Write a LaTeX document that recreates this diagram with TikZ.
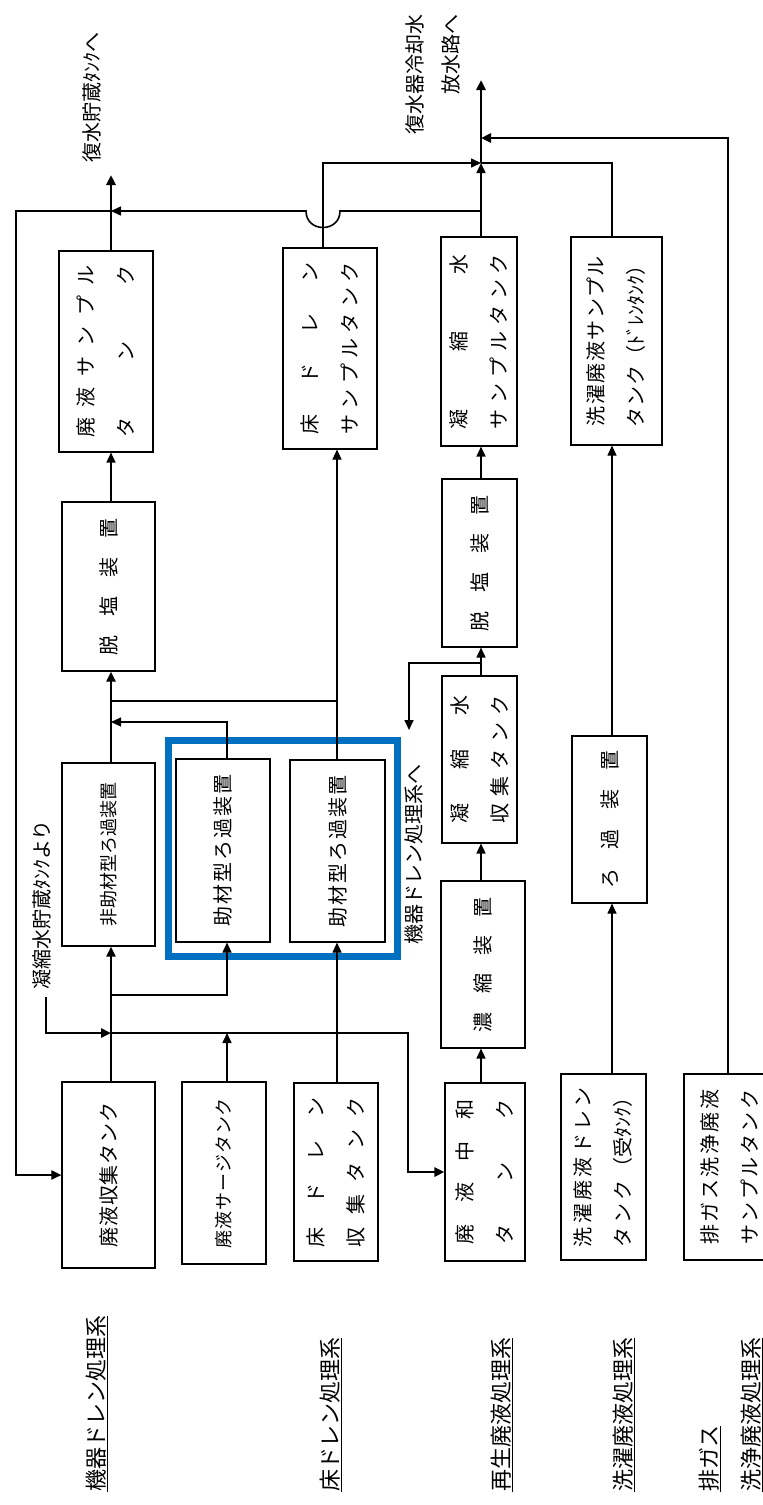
\documentclass[tikz,border=0pt]{standalone}
\usepackage{fontspec}
\setmainfont{Noto Sans CJK JP}
\usetikzlibrary{arrows.meta}
\definecolor{frameblue}{RGB}{0,112,192}
\newcommand\spreadto[2]{\makebox[#1][s]{#2}}
\newcommand\boxfont{\fontsize{20}{40}\selectfont}
\newcommand\smallboxfont{\fontsize{18}{40}\selectfont}
\newcommand\lblfont{\fontsize{20}{36}\selectfont}
\newcommand\sysfont{\fontsize{22}{42}\selectfont}
\begin{document}
\begin{tikzpicture}[x=1pt,y=-1pt,
  tank/.style={draw, line width=1.1pt, rotate=90, inner sep=0pt, align=center, font=\boxfont},
  lbl/.style={rotate=90, inner sep=0pt, font=\lblfont},
  sys/.style={rotate=90, inner sep=0pt, font=\sysfont, anchor=west, align=left},
  thinl/.style={line width=1.1pt},
  midl/.style={line width=1.6pt},
  thickl/.style={line width=2.6pt},
  arr/.style={-{Triangle[length=10pt,width=9pt]}},
]
\useasboundingbox (0,0) rectangle (763,1505);

% column line positions
\coordinate (xA) at (111,0);
\coordinate (xB1) at (227,0);
\coordinate (xB2) at (337,0);
\coordinate (xB3) at (323,0);
\coordinate (xC) at (481,0);
\coordinate (xD) at (612,0);
\coordinate (xE) at (728,0);

% blue frame
\draw[frameblue, line width=7pt] (168.5,740.5) rectangle (397.5,956.5);

% boxes (minimum width = vertical size, minimum height = horizontal size)
\node[tank, minimum width=201pt, minimum height=94pt] (fes) at (106,351.5)
  {\spreadto{172pt}{廃\hfill 液\hfill サ\hfill ン\hfill プ\hfill ル}\\\spreadto{172pt}{タ\hfill ン\hfill ク}};
\node[tank, minimum width=169pt, minimum height=93pt] (dsA) at (108.5,586.5)
  {\spreadto{137pt}{脱\hfill 塩\hfill 装\hfill 置}};
\node[tank, font=\smallboxfont, minimum width=183pt, minimum height=93pt] (nf) at (108.5,854.5)
  {\spreadto{144pt}{非\hfill 助\hfill 材\hfill 型\hfill ろ\hfill 過\hfill 装\hfill 置}};
\node[tank, minimum width=186pt, minimum height=93pt] (fec) at (108.5,1175)
  {\spreadto{145pt}{廃\hfill 液\hfill 収\hfill 集\hfill タ\hfill ン\hfill ク}};
\node[tank, font=\smallboxfont, minimum width=182pt, minimum height=84pt] (surge) at (224,1173)
  {\spreadto{150pt}{廃\hfill 液\hfill サ\hfill ー\hfill ジ\hfill タ\hfill ン\hfill ク}};
\node[tank, minimum width=183pt, minimum height=94pt] (f1) at (223,850.5)
  {\spreadto{152pt}{助\hfill 材\hfill 型\hfill ろ\hfill 過\hfill 装\hfill 置}};
\node[tank, minimum width=182pt, minimum height=95pt] (f2) at (337.5,851)
  {\spreadto{152pt}{助\hfill 材\hfill 型\hfill ろ\hfill 過\hfill 装\hfill 置}};
\node[tank, minimum width=178pt, minimum height=84pt] (fdc) at (336,1172)
  {\spreadto{150pt}{床\hfill ド\hfill レ\hfill ン}\\\spreadto{150pt}{収\hfill 集\hfill タ\hfill ン\hfill ク}};
\node[tank, minimum width=201pt, minimum height=94pt] (fds) at (330,348.5)
  {\spreadto{172pt}{床\hfill ド\hfill レ\hfill ン}\\\spreadto{172pt}{サ\hfill ン\hfill プ\hfill ル\hfill タ\hfill ン\hfill ク}};
\node[tank, minimum width=209pt, minimum height=76pt] (css) at (479,341.5)
  {\spreadto{175pt}{凝\hfill 縮\hfill 水}\\\spreadto{175pt}{サ\hfill ン\hfill プ\hfill ル\hfill タ\hfill ン\hfill ク}};
\node[tank, minimum width=168pt, minimum height=75pt] (dsC) at (479.5,563)
  {\spreadto{136pt}{脱\hfill 塩\hfill 装\hfill 置}};
\node[tank, minimum width=167pt, minimum height=75pt] (csc) at (479.5,759.5)
  {\spreadto{128pt}{凝\hfill 縮\hfill 水}\\\spreadto{128pt}{収\hfill 集\hfill タ\hfill ン\hfill ク}};
\node[tank, minimum width=167pt, minimum height=84pt] (conc) at (483,964.5)
  {\spreadto{135pt}{濃\hfill 縮\hfill 装\hfill 置}};
\node[tank, minimum width=178pt, minimum height=80pt] (neu) at (485,1172)
  {\spreadto{145pt}{廃\hfill 液\hfill 中\hfill 和}\\\spreadto{145pt}{タ\hfill ン\hfill ク}};
\node[tank, minimum width=208pt, minimum height=91pt] (wss) at (616.5,341)
  {\spreadto{170pt}{洗\hfill 濯\hfill 廃\hfill 液\hfill サ\hfill ン\hfill プ\hfill ル}\\\spreadto{172pt}{タ\hfill ン\hfill ク\hfill （ﾄﾞﾚﾝﾀﾝｸ）}};
\node[tank, minimum width=167pt, minimum height=75pt] (filt) at (609.5,819.5)
  {\spreadto{138pt}{ろ\hfill 過\hfill 装\hfill 置}};
\node[tank, minimum width=186pt, minimum height=85pt] (wdt) at (603.5,1167)
  {\spreadto{160pt}{洗\hfill 濯\hfill 廃\hfill 液\hfill ド\hfill レ\hfill ン}\\\spreadto{160pt}{タ\hfill ン\hfill ク\hfill （受ﾀﾝｸ）}};
\node[tank, minimum width=186pt, minimum height=91pt] (exh) at (729.5,1167)
  {\spreadto{155pt}{排\hfill ガ\hfill ス\hfill 洗\hfill 浄\hfill 廃\hfill 液}\\\spreadto{155pt}{サ\hfill ン\hfill プ\hfill ル\hfill タ\hfill ン\hfill ク}};

% junctions and free ends
\coordinate (jA) at (111,1033);
\coordinate (jS) at (227,1033);
\coordinate (jin) at (46,997);
\coordinate (jB) at (111,995);
\coordinate (jC) at (111,722);
\coordinate (jD) at (111,701);
\coordinate (jD2) at (337,701);
\coordinate (outA) at (111,175);
\coordinate (jM) at (481,163);
\coordinate (jN) at (481,138);
\coordinate (outM) at (481,80);
\coordinate (jE) at (481,211);
\coordinate (jF) at (111,211);
\coordinate (jG) at (481,663);
\coordinate (outG) at (409,730);

% machine drain line
\draw[thickl, arr] (fec.east -| xA) -- (nf.west -| xA);
\draw[thickl, arr] (jin) |- (jA);
\draw[thickl, arr] (jA) -- (408,1033) |- (neu.north);
\draw[midl, arr] (surge.east -| xB1) -- (jS);
\draw[thinl, arr] (jB) -| (f1.west -| xB1);
\draw[thinl, arr] (fdc.east -| xB2) -- (f2.west -| xB2);
\draw[thickl, arr] (nf.east -| xA) -- (dsA.west -| xA);
\draw[thinl, arr] (f1.east -| xB1) |- (jC);
\draw[thinl, arr] (f2.east -| xB2) -- (fds.west -| xB2);
\draw[thinl] (jD2) -- (jD);
\draw[midl, arr] (dsA.east -| xA) -- (fes.west -| xA);
\draw[thickl, arr] (fes.east -| xA) -- (outA);

% top collection lines
\draw[midl, arr] (css.east -| xC) -- (jM);
\draw[thickl, arr] (jM) -- (outM);
\draw[midl, arr] (jE) -- (340,211) .. controls (340,233) and (306,233) .. (306,211) -- (jF);
\draw[line width=2pt, arr] (jF) -- (16,211) |- (fec.north);
\draw[midl, arr] (fds.east -| xB3) |- (jM);
\draw[midl] (wss.east -| xD) |- (jM);
\draw[thickl, arr] (exh.east -| xE) |- (jN);

% regeneration line
\draw[midl, arr] (neu.east -| xC) -- (conc.west -| xC);
\draw[midl, arr] (conc.east -| xC) -- (csc.west -| xC);
\draw[midl, arr] (csc.east -| xC) -- (dsC.west -| xC);
\draw[midl, arr] (jG) -| (outG);
\draw[midl, arr] (dsC.east -| xC) -- (css.west -| xC);

% laundry line
\draw[thinl, arr] (wdt.east -| xD) -- (filt.west -| xD);
\draw[thinl, arr] (filt.east -| xD) -- (wss.west -| xD);

% labels
\node[lbl, anchor=west] (tA) at (92,163) {復水貯蔵ﾀﾝｸへ};
\node[lbl, anchor=east, align=right] (tM) at (433,14) {復水器冷却水\\放水路へ};
\node[lbl, anchor=west] (tS) at (42,990) {凝縮水貯蔵ﾀﾝｸより};
\node[lbl, anchor=west] (tK) at (414,945) {機器ドレン処理系へ};

\node[sys] (s1) at (97,1492) {\underline{機器ドレン処理系}};
\node[sys] (s2) at (331,1492) {\underline{床ドレン処理系}};
\node[sys] (s3) at (502,1492) {\underline{再生廃液処理系}};
\node[sys] (s4) at (624,1492) {\underline{洗濯廃液処理系}};
\node[sys] (s5) at (731,1492) {\underline{排ガス}\\\underline{洗浄廃液処理系}};
\end{tikzpicture}
\end{document}
